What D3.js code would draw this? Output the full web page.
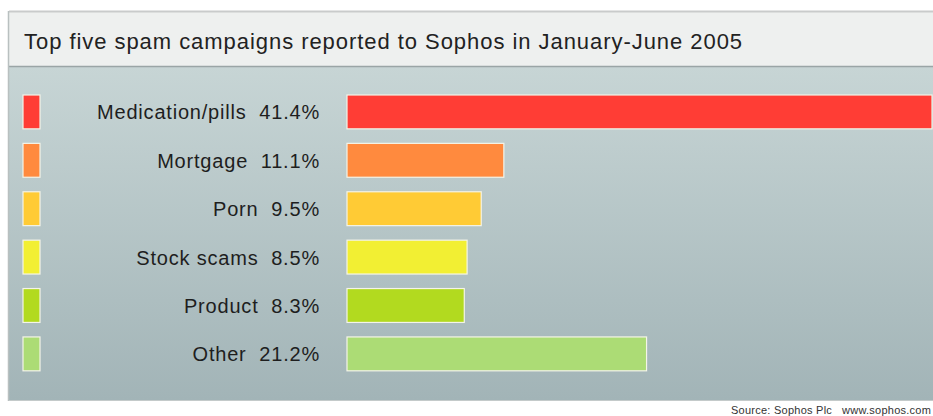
<!DOCTYPE html>
<html><head><meta charset="utf-8">
<script src="https://cdn.jsdelivr.net/npm/d3@7"></script>
<style>body{margin:0;background:#fff;}svg{display:block;}</style>
</head><body>
<script>
const categories = ["Medication/pills","Mortgage","Porn","Stock scams","Product","Other"];
const values = [41.4, 11.1, 9.5, 8.5, 8.3, 21.2];
const colors = ["#ff3d35","#ff8a3e","#ffcb35","#f2ef33","#b2da1f","#acdc75"];
const title = "Top five spam campaigns reported to Sophos in January-June 2005";
const source = "Source: Sophos Plc   www.sophos.com";

const W = 933, H = 416;
const svg = d3.select("body").append("svg").attr("width", W).attr("height", H);
const defs = svg.append("defs");
const g = defs.append("linearGradient").attr("id","bg").attr("x1",0).attr("y1",0).attr("x2",0).attr("y2",1);
g.append("stop").attr("offset","0%").attr("stop-color","#c7d5d5");
g.append("stop").attr("offset","100%").attr("stop-color","#a2b4b7");

const font = "'Liberation Sans', Arial, Helvetica, sans-serif";

// panel
svg.append("rect").attr("x",9).attr("y",67).attr("width",W).attr("height",333).attr("fill","url(#bg)");
svg.append("rect").attr("x",9).attr("y",12).attr("width",W).attr("height",54).attr("fill","#eef0ef");
svg.append("line").attr("x1",9).attr("x2",W).attr("y1",11.5).attr("y2",11.5).attr("stroke","#c9cbcb").attr("stroke-width",2);
svg.append("line").attr("x1",9).attr("x2",W).attr("y1",66.5).attr("y2",66.5).attr("stroke","#9aa5a6").attr("stroke-width",1.5);
svg.append("line").attr("x1",8.5).attr("x2",8.5).attr("y1",11).attr("y2",401).attr("stroke","#b9c0c0").attr("stroke-width",1.5);
svg.append("line").attr("x1",9).attr("x2",W).attr("y1",400.5).attr("y2",400.5).attr("stroke","#c4caca").attr("stroke-width",1);

svg.append("text").attr("x",24).attr("y",49).attr("font-family",font).attr("font-size",22)
  .attr("letter-spacing",0.95).attr("fill","#222").text(title);

const x = d3.scaleLinear().domain([0, 41.4]).range([347, 932]);
const y = d3.scaleBand().domain(categories).range([85.3, 380.5]).paddingInner(0.3).paddingOuter(0.2);

const rows = svg.append("g").selectAll("g").data(categories).join("g");
rows.append("rect").attr("x",23).attr("y",d=>y(d)).attr("width",17).attr("height",y.bandwidth())
  .attr("fill",(d,i)=>colors[i]).attr("stroke","#f4f4e8").attr("stroke-width",1.2);
rows.append("rect").attr("x",x(0)).attr("y",d=>y(d)).attr("width",(d,i)=>x(values[i])-x(0)).attr("height",y.bandwidth())
  .attr("fill",(d,i)=>colors[i]).attr("stroke","#f4f4e8").attr("stroke-width",1.2);
rows.append("text").attr("x",320).attr("y",d=>y(d)+y.bandwidth()/2+7.5).attr("text-anchor","end")
  .attr("font-family",font).attr("font-size",20).attr("letter-spacing",0.8).attr("fill","#1e1e1e")
  .text((d,i)=>d+"\u00a0\u00a0"+values[i].toFixed(1)+"%");

svg.append("text").attr("x",731).attr("y",414).attr("font-family",font).attr("font-size",11)
  .attr("letter-spacing",0.25).attr("fill","#333").attr("xml:space","preserve").text(source);
</script>
</body></html>
